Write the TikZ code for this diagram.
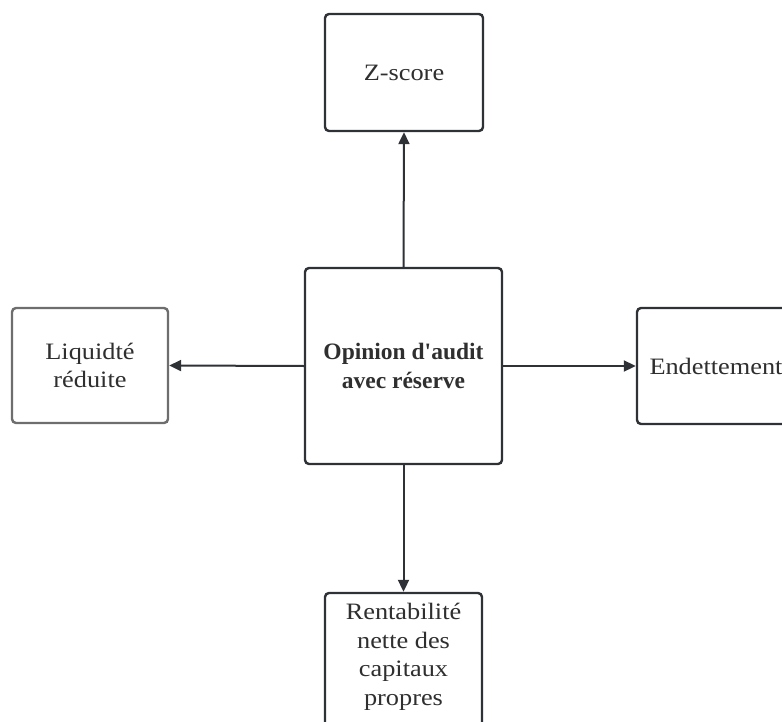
\documentclass[tikz,border=0pt]{standalone}
\usepackage{fontspec}
\setmainfont[FakeStretch=1.12]{Liberation Serif}
\newfontfamily\plainserif{Liberation Serif}
\usetikzlibrary{arrows.meta}
\definecolor{inkdark}{HTML}{2E3135}
\definecolor{inkgray}{HTML}{6E6E6E}
\definecolor{txt}{HTML}{2F2F2F}
\tikzset{
  cardtext/.style={align=center, inner sep=0pt, text=txt,
    font=\fontsize{23.5bp}{28.5bp}\selectfont},
  card/.style={cardtext, draw=inkdark, line width=2.4bp, rounded corners=4bp, fill=white},
  softcard/.style={card, draw=inkgray},
  link/.style={draw=inkdark, line width=2bp,
    -{Triangle[length=12bp, width=11bp]}}
}
\begin{document}
\begin{tikzpicture}[x=1bp, y=-1bp]
  \useasboundingbox (0,0) rectangle (782,722);
  \begin{scope}
    \clip (0,0) rectangle (782,722);
    \node[card, minimum width=158bp, minimum height=117bp] (zs) at (404,72.5) {Z-score};
    \node[card, minimum width=197bp, minimum height=196bp,
      font=\plainserif\bfseries\fontsize{23.5bp}{28.5bp}\selectfont] (op) at (403.5,366)
      {Opinion d'audit\\avec réserve};
    \node[softcard, minimum width=156bp, minimum height=115bp] (liq) at (90,365.5)
      {Liquidté\\réduite};
    \node[card, minimum width=158bp, minimum height=116bp] (end) at (716,366) {Endettement};
    % the lower card runs past the bottom edge
    \node[card, minimum width=157bp, minimum height=150bp] (ren) at (403.5,668) {};
    \node[cardtext] (rentxt) at (403.5,657)
      {Rentabilité\\nette des\\capitaux\\propres};
    \draw[link] (op.north) -- (zs.south);
    \draw[link] (op.south) -- (ren.north);
    \draw[link] (op.west) -- (liq.east);
    \draw[link] (op.east) -- (end.west);
  \end{scope}
\end{tikzpicture}
\end{document}
